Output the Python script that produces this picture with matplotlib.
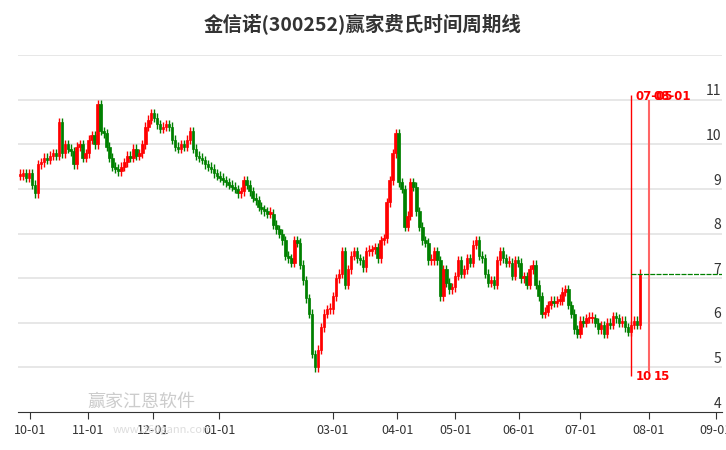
import matplotlib
matplotlib.use("Agg")
import matplotlib.pyplot as plt
import numpy as np

plt.rcParams['font.family'] = ['Noto Sans CJK SC', 'DejaVu Sans']

closes = [9.3,9.35,9.25,9.35,9.1,8.9,9.55,9.6,9.7,9.65,9.75,9.8,9.75,10.5,9.8,10.0,9.9,9.85,9.55,9.95,
          10.0,9.7,9.8,10.1,10.2,10.0,10.9,10.3,10.25,9.95,9.7,9.5,9.45,9.4,9.5,9.6,9.75,9.7,9.9,9.75,
          9.8,10.0,10.4,10.55,10.7,10.6,10.45,10.35,10.4,10.45,10.4,10.1,9.95,9.9,10.0,9.95,10.1,10.3,9.9,9.75,
          9.7,9.65,9.55,9.5,9.45,9.35,9.3,9.25,9.2,9.15,9.1,9.05,9.0,8.9,8.95,9.2,9.1,8.95,8.8,8.75,
          8.6,8.55,8.5,8.45,8.45,8.2,8.1,8.0,7.85,7.5,7.45,7.35,7.85,7.8,7.3,
          6.95,6.55,6.2,5.3,5.0,5.4,5.9,6.2,6.3,6.3,6.6,7.0,7.1,7.6,6.85,7.2,7.5,7.6,7.45,7.4,
          7.25,7.6,7.6,7.65,7.7,7.45,7.85,7.9,8.7,9.2,9.8,10.25,9.15,9.0,8.15,8.4,9.15,9.05,8.5,8.15,
          7.85,7.8,7.4,7.4,7.6,7.4,6.6,7.2,6.9,6.75,6.8,7.05,7.4,7.1,7.2,7.45,7.35,7.75,7.85,7.5,
          7.45,7.1,6.9,6.95,6.85,7.4,7.6,7.45,7.35,7.35,7.05,7.4,7.35,7.0,7.05,6.85,7.2,7.3,6.85,6.6,
          6.2,6.25,6.4,6.5,6.45,6.5,6.5,6.7,6.75,6.4,6.2,5.85,5.75,6.05,6.0,6.1,6.1,6.1,6.0,5.85,
          5.95,5.75,6.0,5.95,6.15,6.1,6.0,6.05,5.9,5.8,5.95,6.05,5.95,7.1]
opens = [closes[0]] + closes[:-1]

tick_pos = [3.4, 22.8, 44.6, 66.8, 105, 126.5, 146, 167.4, 188, 211, 233.5]
tick_labels = ["10-01","11-01","12-01","01-01","03-01","04-01","05-01","06-01","07-01","08-01","09-01"]
y_ticks = [4,5,6,7,8,9,10,11]
grid_levels = [5,6,7,8,9,10,11,12]
cycle_lines = [205, 211]
cycle_top = ["07-05", "08-01"]
cycle_bot = ["10", "15"]
last_close = closes[-1]

fig = plt.figure(figsize=(7.26, 4.5), dpi=100)
ax = fig.add_axes([0.0248, 0.0844, 0.970, 0.793])
ax.set_xlim(-0.7, 235.6)
ax.set_ylim(4.0, 12.0)

for g in grid_levels:
    ax.axhline(g, color='#e3e3e3', lw=1.2, zorder=0)

for i, (o, c) in enumerate(zip(opens, closes)):
    col = '#ff0000' if c >= o else '#008000'
    lo, hi = min(o, c), max(o, c)
    if hi - lo < 0.04:
        hi = lo + 0.04
    ax.vlines(i, lo - 0.1, hi + 0.1, color=col, lw=1.0, zorder=2)
    ax.bar(i, hi - lo, bottom=lo, width=0.85, color=col, edgecolor=col, lw=0.5, zorder=3)

ax.vlines(cycle_lines[0], 4.8, 11.1, color='#ff0000', lw=1.0, zorder=4)
ax.vlines(cycle_lines[1], 4.9, 11.0, color='#ff6666', lw=1.5, zorder=4)
ax.hlines(last_close, cycle_lines[0], 235.6, color='#008000', lw=0.9, linestyles=(0, (4, 1)), zorder=4)
for xv, t, b in zip(cycle_lines, cycle_top, cycle_bot):
    ax.text(xv + 1.5, 10.93, t, color='#ff0000', fontsize=8.5, fontweight='bold', va='bottom', ha='left', family='DejaVu Sans')
    ax.text(xv + 1.5, 4.95, b, color='#ff0000', fontsize=8.5, fontweight='bold', va='top', ha='left', family='DejaVu Sans')

ax.set_yticks([])
for yv in y_ticks:
    ax.text(235.3, yv + 0.03, str(yv), ha='right', va='bottom', fontsize=10, color='#333333')

ax.set_xticks(tick_pos)
ax.set_xticklabels(tick_labels, fontsize=9, color='#333333')
ax.tick_params(axis='x', length=5, color='#333333', direction='out')
for s in ['top', 'right', 'left']:
    ax.spines[s].set_visible(False)
ax.spines['bottom'].set_color('#333333')

fig.text(0.5, 0.945, "金信诺(300252)赢家费氏时间周期线", ha='center', va='center', fontsize=14, fontweight='bold', color='#333333')
fig.text(0.12, 0.107, "赢家江恩软件", fontsize=13, color='#cccccc', va='center')
fig.text(0.155, 0.045, "www.360gann.com", fontsize=8, color='#dddddd', va='center')

fig.savefig("out.png", dpi=100)
